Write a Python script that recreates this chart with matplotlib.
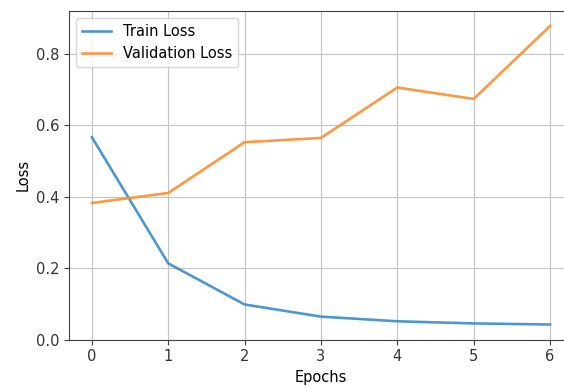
import numpy as np
import matplotlib
matplotlib.use('Agg')
import matplotlib.pyplot as plt

epochs = [0, 1, 2, 3, 4, 5, 6]
train_loss = [0.566, 0.213, 0.098, 0.064, 0.051, 0.045, 0.042]
val_loss = [0.382, 0.410, 0.552, 0.564, 0.705, 0.673, 0.877]

plt.rcParams['font.size'] = 10.5

fig = plt.figure(figsize=(5.64, 3.87), dpi=100)
ax = fig.add_axes([0.1223, 0.1227, 0.8936, 0.8488])

ax.plot(epochs, train_loss, label='Train Loss', color='#3a8ccc', lw=1.9, alpha=0.9)
ax.plot(epochs, val_loss, label='Validation Loss', color='#ff8c2e', lw=1.9, alpha=0.9)
ax.set_xlabel('Epochs')
ax.set_ylabel('Loss')
ax.set_ylim(0.0, 0.919)
ax.legend(loc='upper left')
ax.grid(True, color='#c4c4c4')
for s in ax.spines.values():
    s.set_color('#404040')
ax.tick_params(colors='#404040', labelcolor='#333333')

fig.savefig('out.png', dpi=100)
